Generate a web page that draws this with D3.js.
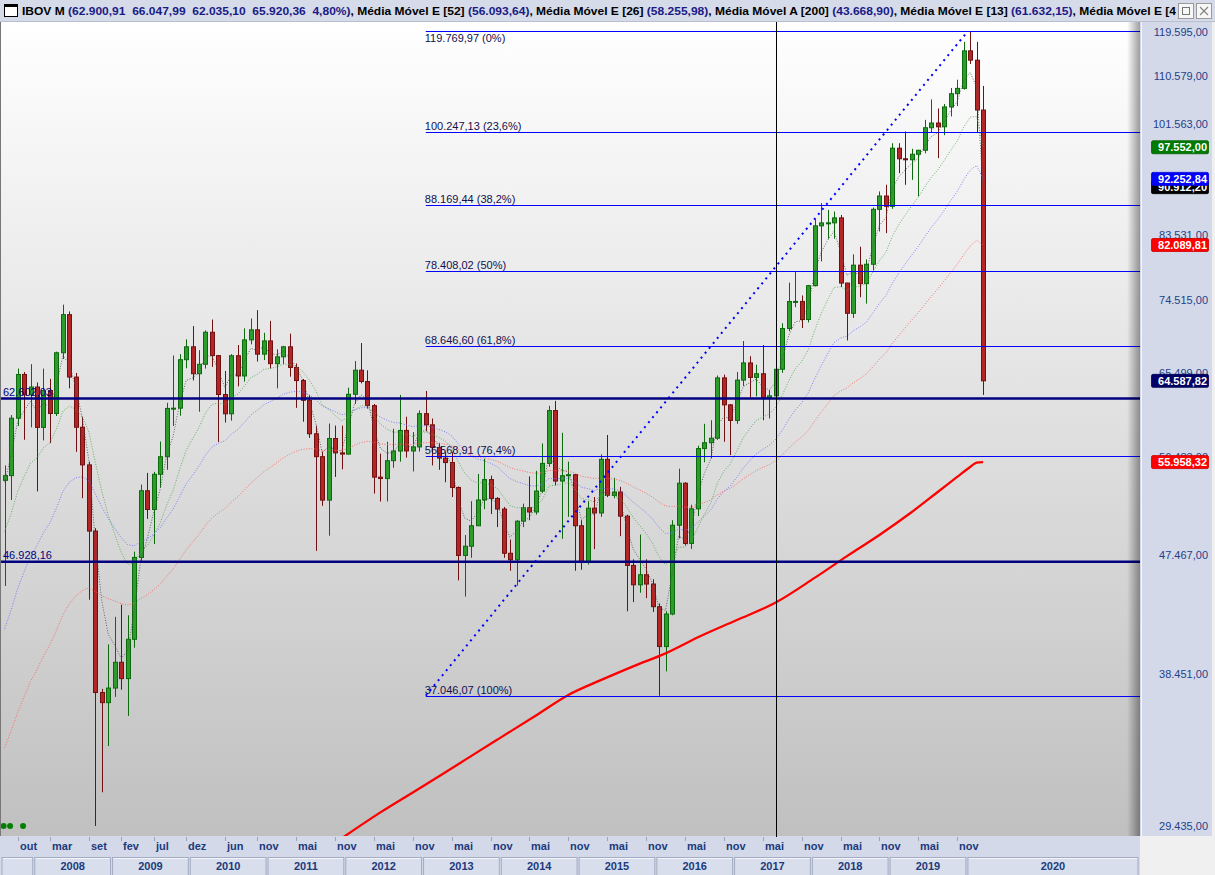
<!DOCTYPE html>
<html><head><meta charset="utf-8">
<script src="https://cdn.jsdelivr.net/npm/d3@7"></script>
<style>
html,body{margin:0;padding:0;background:#f0f0f0;}
svg{display:block;font-family:"Liberation Sans",Arial,sans-serif;}
</style></head><body>
<svg id="chart" width="1215" height="875"></svg>
<script>
// ---------------- DATA ----------------
const startYear = 2007, startMonth = 8; // first candle: Aug 2007 (monthly candles)
const opens = [54182,54637,60465,65317,63006,
 63886,59490,63489,60968,67868,72592,65017,59505,55680,49541,37256,36596,
 37550,39300,38183,40926,47289,53198,51465,54765,56488,61517,61545,67044,
 68588,65402,66503,70372,67529,63046,60936,67515,65145,69430,70673,67705,
 69305,66575,67383,68587,66133,64620,62404,58823,56495,52324,58338,56875,
 56754,63072,65812,64511,61820,54490,54355,56097,57061,59175,57068,57475,
 60952,59761,57424,56352,55910,53506,47457,48234,50008,52338,54256,52482,
 51507,47639,47094,50415,51627,51239,53168,55829,61288,54116,54629,54724,
 50007,46907,51583,51150,56229,52760,53080,50864,46625,45059,45868,45120,
 43350,40405,42793,50055,53910,48471,51527,57308,57901,58367,64925,61906,
 60227,64670,66662,64984,65403,62711,62900.91,65920,70835,74294,74308,71971,
 76402,84913,85354,85366,86115,76754,72763,79220,76678,79342,87424,89504,
 87887,97394,95584,95415,96353,97030,100967,101812,101135,104745,107220,108233,
 115645,113761,104172];
const highs = [55630,60800,66000,65600,66520,
 64400,66000,64820,68000,73890,73000,65500,60600,56000,49800,37500,40560,
 42580,43500,42700,47770,53780,54900,55000,58030,62130,67540,67700,69490,
 71150,68180,70600,71970,67600,65720,67700,68800,70860,72100,73170,70300,
 71800,68290,68700,70200,66600,64800,63000,59680,57000,59900,59680,59680,
 63810,66880,69040,65800,62000,56800,58000,59350,63000,60620,59000,61300,
 63440,60430,57900,56950,56950,53600,49200,52220,54800,56300,54630,52600,
 51700,48800,50500,52000,54560,55100,57830,61800,62340,58930,56000,54800,
 50500,52220,52610,56730,58700,54420,53560,51000,47130,49240,47130,45500,
 43600,43000,50500,55310,54000,51900,57600,59870,60250,65200,65300,62000,
 65600,69290,67460,66450,68800,63540,66047.99,71500,76820,78260,75090,76500,
 85910,88390,87340,87080,86560,76800,80750,81840,80030,87700,90230,91300,
 98250,98250,100290,97280,97100,102380,106140,104470,105300,108310,109900,117490,
 119593,117490,108700];
const lows = [44960,52340,59640,58210,59500,
 53140,58140,57860,60700,67130,63740,56980,52500,43890,29435,31240,33900,
 36970,37440,35750,40320,47000,50620,48420,53500,55200,59650,60730,66040,
 64630,61160,66000,66200,57980,60000,60200,63960,64500,68890,66830,67000,
 66000,63740,66500,65060,61580,60090,58400,47840,51800,49140,54510,55250,
 56700,62000,64300,61500,52930,52190,52200,55400,56000,56400,55040,57000,
 59090,55630,55200,54000,52610,45410,44130,47260,50000,51500,51050,49890,
 47260,46190,44990,49890,50500,51000,53000,55500,53700,48870,50800,46190,
 46270,46700,47990,50800,52600,52500,49100,43000,43700,44430,44010,42950,
 37046,38670,42700,48900,48300,48000,50870,55940,56320,58200,58000,56650,
 59870,64000,62660,62840,60250,60430,62035.10,65500,70500,73560,70900,71600,
 76300,79740,83000,83000,76230,69360,72170,74860,74020,78500,84080,83830,
 87500,93180,91290,92090,89450,96500,100120,95690,99650,103000,104900,108000,
 113000,100200,63000];
const closes = [54637,60465,65317,63006,63886,
 59490,63489,60968,67868,72592,65017,59505,55680,49541,37256,36596,37550,
 39300,38183,40926,47289,53198,51465,54765,56488,61517,61545,67044,68588,
 65402,66503,70372,67529,63046,60936,67515,65145,69430,70673,67705,69305,
 66575,67383,68587,66133,64620,62404,58823,56495,52324,58338,56875,56754,
 63072,65812,64511,61820,54490,54355,56097,57061,59175,57068,57475,60952,
 59761,57424,56352,55910,53506,47457,48234,50008,52338,54256,52482,51507,
 47639,47094,50415,51627,51239,53168,55829,61288,54116,54629,54724,50007,
 46907,51583,51150,56229,52760,53080,50864,46625,45059,45868,45120,43350,
 40405,42793,50055,53910,48471,51527,57308,57901,58367,64925,61906,60227,
 64670,66662,64984,65403,62711,62900,65920.36,70835,74294,74308,71971,76402,
 84913,85354,85366,86115,76754,72763,79220,76678,79342,87424,89504,87887,
 97394,95584,95415,96353,97030,100967,101812,101135,104745,107220,108233,115645,
 113761,104172,64587.82];

// moving-average starting values read at the first visible candle
const emaPeriods = [4, 13, 26, 52];
const emaSeeds   = [54000, 49500, 41700, 33800];
const emaColors  = ["#505050", "#4ea64e", "#6a6aff", "#ff5a5a"];

// 200-month simple MA, month index -> value
const smaIdx = [52,58,64,70,76,82,87,92,97,102,107,113,119,125,130,135,140,144,147,149,150,151];
const smaVal = [28800,30150,31450,32830,34270,35780,37100,38080,39020,39920,41070,42340,43669,45610,47400,49200,51240,53080,54510,55480,55900,55958];

// Fibonacci retracement
const fibValues = [119769.97,100247.13,88169.44,78408.02,68646.60,56568.91,37046.07];
const fibPct    = ["(0%)","(23,6%)","(38,2%)","(50%)","(61,8%)","(76,4%)","(100%)"];
const fibStartIdx = 65, fibEndIdx = 149;

// horizontal support lines
const supportValues = [62602.03, 46928.16];

// right axis (92.547,00 is fully hidden under the value labels in the original)
const yTickValues = [119595,110579,101563,83531,74515,65499,56483,47467,38451,29435];
const sideLabelValues = [97552.00, 90912.20, 92252.84, 82089.81, 64587.82, 55958.32];
const sideLabelColors = ["#007a00", "#000000", "#0000ff", "#ff0000", "#000066", "#ff0000"];

// bottom axis
const monthTickDates  = ["2007-10","2008-03","2008-09","2009-02","2009-07","2009-12","2010-06","2010-11","2011-05","2011-11","2012-05","2012-11","2013-05","2013-11","2014-05","2014-11","2015-05","2015-11","2016-05","2016-11","2017-05","2017-11","2018-05","2018-11","2019-05","2019-11"];
const monthTickLabels = ["out","mar","set","fev","jul","dez","jun","nov","mai","nov","mai","nov","mai","nov","mai","nov","mai","nov","mai","nov","mai","nov","mai","nov","mai","nov"];
const yearLabels = ["","2008","2009","2010","2011","2012","2013","2014","2015","2016","2017","2018","2019","2020"];

const cursorIdx = 119;           // Jul 2017
const markerIdx = [0, 1, 3];      // green dots at the bottom

const headerParts = [
  ["IBOV M ", "#000"],
  ["(62.900,91  66.047,99  62.035,10  65.920,36  4,80%)", "#1a1a86"],
  [", Média Móvel E [52] ", "#000"], ["(56.093,64)", "#1a1a86"],
  [", Média Móvel E [26] ", "#000"], ["(58.255,98)", "#1a1a86"],
  [", Média Móvel A [200] ", "#000"], ["(43.668,90)", "#1a1a86"],
  [", Média Móvel E [13] ", "#000"], ["(61.632,15)", "#1a1a86"],
  [", Média Móvel E [4", "#000"]
];

// ---------------- CHART ----------------
const W = 1215, H = 875;
const plot = {l: 0, r: 1140, t: 22, b: 836};
const svg = d3.select("#chart");
const defs = svg.append("defs");
const loc = d3.formatLocale({decimal: ",", thousands: ".", grouping: [3], currency: ["", ""]});
const fmt = loc.format(",.2f");

const n = closes.length;
const x = d3.scaleLinear().domain([0, n - 1]).range([4.6, 4.6 + (n - 1) * 6.48]);
const y = d3.scaleLog().domain([28920, 121688]).range([plot.b, plot.t]);
const monthIndex = s => { const [yy, mm] = s.split("-").map(Number); return (yy - startYear) * 12 + (mm - startMonth); };

// backgrounds
const bg = defs.append("linearGradient").attr("id", "bgGrad").attr("x1", 0).attr("y1", 0).attr("x2", 0).attr("y2", 1);
bg.append("stop").attr("offset", "0%").attr("stop-color", "#ffffff");
bg.append("stop").attr("offset", "100%").attr("stop-color", "#c0c0c0");
const bev = defs.append("linearGradient").attr("id", "bevel").attr("x1", 0).attr("y1", 0).attr("x2", 1).attr("y2", 0);
bev.append("stop").attr("offset", "0%").attr("stop-color", "#000").attr("stop-opacity", 0);
bev.append("stop").attr("offset", "100%").attr("stop-color", "#000").attr("stop-opacity", 0.38);
defs.append("clipPath").attr("id", "plotClip").append("rect")
  .attr("x", plot.l).attr("y", plot.t).attr("width", plot.r - plot.l).attr("height", plot.b - plot.t);
defs.append("clipPath").attr("id", "headClip").append("rect").attr("x", 0).attr("y", 0).attr("width", 1176).attr("height", 21);

svg.append("rect").attr("width", W).attr("height", H).attr("fill", "#f0f0f0");
svg.append("rect").attr("x", plot.l).attr("y", plot.t).attr("width", plot.r - plot.l).attr("height", plot.b - plot.t).attr("fill", "url(#bgGrad)");
// right axis panel
svg.append("rect").attr("x", plot.r).attr("y", plot.t).attr("width", 72).attr("height", plot.b - plot.t).attr("fill", "#d3d9e8");
svg.append("line").attr("x1", plot.r + 1.5).attr("x2", plot.r + 1.5).attr("y1", plot.t).attr("y2", plot.b).attr("stroke", "#f4f6fb");
// bottom axis strip
svg.append("rect").attr("x", 0).attr("y", plot.b).attr("width", plot.r).attr("height", H - plot.b).attr("fill", "#d3d9e8");

const P = svg.append("g").attr("clip-path", "url(#plotClip)");

// candles
const cand = P.append("g");
d3.range(n).forEach(i => {
  const up = closes[i] >= opens[i];
  const stroke = up ? "#0c6a0c" : "#701010";
  const fill = up ? "#2c9c2c" : "#b42626";
  const cx = Math.round(x(i)) + 0.5;
  cand.append("line").attr("x1", cx).attr("x2", cx).attr("y1", y(highs[i])).attr("y2", y(lows[i]))
    .attr("stroke", stroke).attr("stroke-width", 1);
  const top = y(Math.max(opens[i], closes[i])), bot = y(Math.min(opens[i], closes[i]));
  cand.append("rect").attr("x", cx - 2).attr("y", top).attr("width", 4).attr("height", Math.max(1, bot - top))
    .attr("fill", fill).attr("stroke", stroke).attr("stroke-width", 1);
});

// exponential moving averages (computed from the closes)
emaPeriods.forEach((p, k) => {
  const a = 2 / (p + 1);
  let e = emaSeeds[k];
  const vals = closes.map((c, i) => i === 0 ? e : (e = a * c + (1 - a) * e));
  P.append("path").datum(vals)
    .attr("d", d3.line().x((d, i) => x(i)).y(d => y(d)))
    .attr("fill", "none").attr("stroke", emaColors[k]).attr("stroke-width", 1)
    .attr("stroke-dasharray", "1,1.6").attr("opacity", 0.85);
});

// 200-month SMA
P.append("path").datum(smaIdx.map((d, i) => [d, smaVal[i]]))
  .attr("d", d3.line().x(d => x(d[0])).y(d => y(d[1])).curve(d3.curveMonotoneX))
  .attr("fill", "none").attr("stroke", "#ff0000").attr("stroke-width", 2.3);

// support lines
supportValues.forEach(v => {
  P.append("line").attr("x1", plot.l).attr("x2", plot.r).attr("y1", y(v)).attr("y2", y(v))
    .attr("stroke", "#000080").attr("stroke-width", 2.3);
  P.append("text").attr("x", 3).attr("y", y(v) - 3).attr("font-size", 11).attr("fill", "#000080").text(fmt(v));
});

// fibonacci lines
fibValues.forEach((v, k) => {
  const ly = Math.round(y(v)) + 0.5;
  P.append("line").attr("x1", x(fibStartIdx)).attr("x2", plot.r).attr("y1", ly).attr("y2", ly)
    .attr("stroke", "#0000ff").attr("stroke-width", 1);
  P.append("text").attr("x", x(fibStartIdx) - 1).attr("y", k === 0 ? ly + 10 : ly - 2.5)
    .attr("font-size", 11).attr("fill", "#101050")
    .text(fmt(v) + " " + fibPct[k]);
});
// trend (dotted)
P.append("line").attr("x1", x(fibStartIdx)).attr("y1", y(fibValues[6])).attr("x2", x(fibEndIdx) - 3).attr("y2", y(fibValues[0]) + 1)
  .attr("stroke", "#0000ff").attr("stroke-width", 2).attr("stroke-dasharray", "2,4.4");

// markers
markerIdx.forEach(i => P.append("circle").attr("cx", x(i) - 1).attr("cy", 826).attr("r", 3).attr("fill", "#008000"));

// bevel on the right edge of plot and left edge
svg.append("rect").attr("x", plot.r - 13).attr("y", plot.t).attr("width", 13).attr("height", plot.b - plot.t).attr("fill", "url(#bevel)");
svg.append("line").attr("x1", 0.5).attr("x2", 0.5).attr("y1", plot.t).attr("y2", plot.b).attr("stroke", "#777");

// cursor line
svg.append("line").attr("x1", Math.round(x(cursorIdx)) + 0.5).attr("x2", Math.round(x(cursorIdx)) + 0.5)
  .attr("y1", plot.t).attr("y2", plot.b + 1).attr("stroke", "#000").attr("stroke-width", 1);

// right axis tick labels
const yAxisG = svg.append("g");
yTickValues.forEach(v => {
  yAxisG.append("text").attr("x", 1208).attr("y", y(v)).attr("dy", "0.35em").attr("text-anchor", "end")
    .attr("font-size", 11).attr("fill", "#23418a").text(fmt(v));
});
// colored value labels
sideLabelValues.forEach((v, k) => {
  const yy = y(v);
  yAxisG.append("rect").attr("x", 1151.5).attr("y", yy - 6.5).attr("width", 57).attr("height", 13).attr("rx", 1.5)
    .attr("fill", sideLabelColors[k]).attr("stroke", d3.color(sideLabelColors[k]).darker(0.6)).attr("stroke-width", 0.8);
  yAxisG.append("text").attr("x", 1207).attr("y", yy).attr("dy", "0.36em").attr("text-anchor", "end")
    .attr("font-size", 11).attr("font-weight", "bold").attr("fill", "#fff").text(fmt(v));
});

// bottom axis: month ticks
const axG = svg.append("g");
monthTickDates.forEach((s, k) => {
  const xx = Math.round(x(monthIndex(s))) + 0.5;
  axG.append("line").attr("x1", xx).attr("x2", xx).attr("y1", plot.b + 1).attr("y2", plot.b + 5).attr("stroke", "#9aa4bc");
  axG.append("text").attr("x", xx + 1.5).attr("y", 850).attr("font-size", 11).attr("font-weight", "bold")
    .attr("fill", "#1c3a7c").text(monthTickLabels[k]);
});
// year boxes
yearLabels.forEach((lab, k) => {
  const yr = 2007 + k;
  let i0 = Math.max(0, monthIndex(yr + "-01")), i1 = monthIndex(yr + "-12");
  let x0 = k === 0 ? 2 : x(i0) - 3.24 + 1;
  let x1 = lab === "2020" ? 1138 : x(i1) + 3.24 - 1;
  axG.append("rect").attr("x", x0).attr("y", 857.5).attr("width", x1 - x0).attr("height", 18)
    .attr("fill", "#d8deec").attr("stroke", "#a3acc2").attr("stroke-width", 1);
  axG.append("line").attr("x1", x0 + 1).attr("x2", x1 - 1).attr("y1", 858.5).attr("y2", 858.5).attr("stroke", "#f3f5fa");
  if (lab) axG.append("text").attr("x", (x0 + x1) / 2).attr("y", 870).attr("text-anchor", "middle")
    .attr("font-size", 11).attr("font-weight", "bold").attr("fill", "#1c3a7c").text(lab);
});

// header
svg.append("rect").attr("x", 0).attr("y", 0).attr("width", W).attr("height", 21).attr("fill", "#d5dbe8");
svg.append("line").attr("x1", 0).attr("x2", W).attr("y1", 21.5).attr("y2", 21.5).attr("stroke", "#b8bfcf");
// window icon
svg.append("rect").attr("x", 4.5).attr("y", 4.5).attr("width", 13).attr("height", 12).attr("fill", "#fff").attr("stroke", "#000");
svg.append("rect").attr("x", 5).attr("y", 5).attr("width", 12).attr("height", 2).attr("fill", "#000");
const ht = svg.append("g").attr("clip-path", "url(#headClip)").append("text")
  .attr("x", 22).attr("y", 15).attr("font-size", 11).attr("font-weight", "bold").style("white-space", "pre");
headerParts.forEach(p => ht.append("tspan").attr("fill", p[1]).text(p[0]));
const natural = ht.node().getComputedTextLength();
const target = 1176 - 22;
if (Math.abs(natural - target) / target < 0.12) ht.attr("textLength", target).attr("lengthAdjust", "spacingAndGlyphs");
// window buttons
[1178, 1196].forEach((bx, k) => {
  svg.append("rect").attr("x", bx + 0.5).attr("y", 3.5).attr("width", 15).attr("height", 15).attr("fill", "#f7f7f7").attr("stroke", "#9a9a9a");
  if (k === 0) svg.append("rect").attr("x", bx + 4.5).attr("y", 7.5).attr("width", 7).attr("height", 7).attr("fill", "none").attr("stroke", "#777");
  else {
    svg.append("line").attr("x1", bx + 4).attr("y1", 7).attr("x2", bx + 12).attr("y2", 15).attr("stroke", "#888").attr("stroke-width", 1.3);
    svg.append("line").attr("x1", bx + 12).attr("y1", 7).attr("x2", bx + 4).attr("y2", 15).attr("stroke", "#888").attr("stroke-width", 1.3);
  }
});
</script>
</body></html>
